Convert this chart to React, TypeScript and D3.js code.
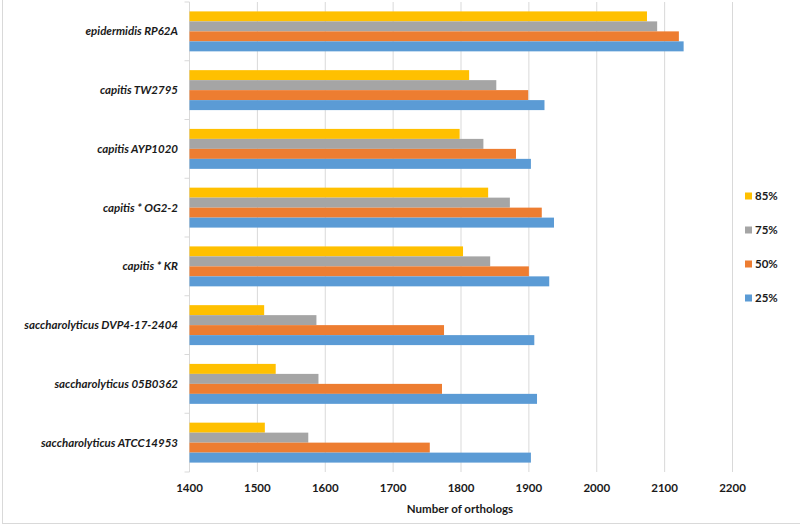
import React from "react";
import * as d3 from "d3";

const categories = [
  "epidermidis RP62A",
  "capitis TW2795",
  "capitis AYP1020",
  "capitis * OG2-2",
  "capitis * KR",
  "saccharolyticus DVP4-17-2404",
  "saccharolyticus 05B0362",
  "saccharolyticus ATCC14953",
];
const seriesNames = ["85%", "75%", "50%", "25%"];
const seriesColors = ["#FFC000", "#A5A5A5", "#ED7D31", "#5B9BD5"];
const v85 = [2074, 1812, 1798, 1840, 1803, 1510, 1527, 1511];
const v75 = [2089, 1852, 1833, 1872, 1843, 1587, 1590, 1575];
const v50 = [2121, 1899, 1881, 1919, 1900, 1775, 1772, 1754];
const v25 = [2128, 1923, 1903, 1937, 1930, 1908, 1912, 1903];
const seriesValues = [v85, v75, v50, v25];
const xTicks = [1400, 1500, 1600, 1700, 1800, 1900, 2000, 2100, 2200];
const xTitle = "Number of orthologs";

const W = 800;
const H = 527;
const FONT = "Lato, 'Open Sans', sans-serif";

export default function App() {
  const left = 189.5;
  const right = 732.5;
  const top = 2;
  const bottom = 472;
  const x = d3.scaleLinear().domain([1400, 2200]).range([left, right]);
  const y = d3.scaleBand<string>().domain(categories).range([top, bottom]).paddingInner(0.32).paddingOuter(0.16);
  const inner = d3.scaleBand<string>().domain(seriesNames).range([0, y.bandwidth()]);
  const step = (bottom - top) / categories.length;

  return (
    <svg width={W} height={H} style={{ position: "absolute", left: 0, top: 0, background: "#fff" }}>
      <rect x={2.5} y={-1} width={W + 2} height={524.5} fill="#fff" stroke="#D9D9D9" />
      {xTicks.map((t) => (
        <line key={t} x1={x(t)} x2={x(t)} y1={top} y2={bottom} stroke="#D9D9D9" strokeWidth={1} />
      ))}
      {d3.range(categories.length + 1).map((i) => (
        <line key={i} x1={left - 5} x2={left} y1={top + i * step} y2={top + i * step} stroke="#D9D9D9" />
      ))}
      <line x1={left} x2={left} y1={top} y2={bottom} stroke="#D9D9D9" />
      {categories.map((c, ci) => (
        <g key={c}>
          {seriesNames.map((s, si) => (
            <rect
              key={s}
              x={x(1400)}
              y={(y(c) as number) + (inner(s) as number)}
              width={x(seriesValues[si][ci]) - x(1400)}
              height={inner.bandwidth()}
              fill={seriesColors[si]}
            />
          ))}
          <text
            x={178}
            y={(y(c) as number) + y.bandwidth() / 2}
            dy="0.35em"
            textAnchor="end"
            fontFamily={FONT}
            fontSize={11.5}
            fontWeight="bold"
            fontStyle="italic"
            fill="#1a1a1a"
          >
            {c}
          </text>
        </g>
      ))}
      {xTicks.map((t) => (
        <text key={t} x={x(t)} y={488} dy="0.35em" textAnchor="middle" fontFamily={FONT} fontSize={11.5} fontWeight="bold" fill="#1a1a1a">
          {t}
        </text>
      ))}
      <text x={460} y={509} dy="0.35em" textAnchor="middle" fontFamily={FONT} fontSize={11.5} fontWeight="bold" fill="#1a1a1a">
        {xTitle}
      </text>
      {seriesNames.map((s, si) => (
        <g key={s} transform={`translate(745, ${196 + si * 34})`}>
          <rect x={0} y={-3.5} width={7} height={7} fill={seriesColors[si]} />
          <text x={10} y={0} dy="0.35em" fontFamily={FONT} fontSize={11.5} fontWeight="bold" fill="#1a1a1a">
            {s}
          </text>
        </g>
      ))}
    </svg>
  );
}
